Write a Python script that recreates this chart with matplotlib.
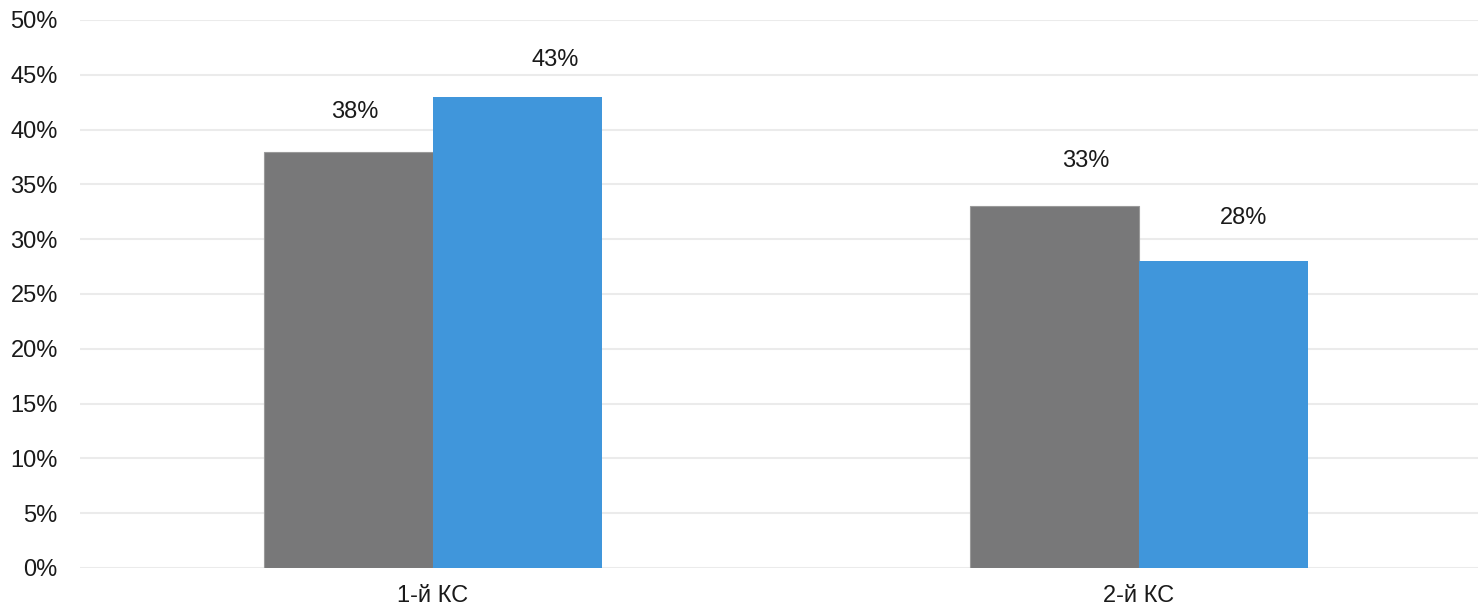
import matplotlib
matplotlib.use("Agg")
import matplotlib.pyplot as plt
import numpy as np

categories = ["1-й КС", "2-й КС"]
series_gray = [38, 33]
series_blue = [43, 28]
y_ticks = [0, 5, 10, 15, 20, 25, 30, 35, 40, 45, 50]

# label placement offsets (pixels), as positioned in the original chart
gray_label_offsets = [(6.5, 40), (31, 45)]
blue_label_offsets = [(38, 37), (20.5, 43)]

plt.rcParams['font.family'] = ['Liberation Sans', 'DejaVu Sans']

W, H = 1478, 607
fig = plt.figure(figsize=(W / 100, H / 100), dpi=100)
ax = fig.add_axes([80 / W, (H - 568) / H, 1412 / W, 548 / H])

x = np.arange(len(categories))
bw = 0.239
b1 = ax.bar(x - bw / 2, series_gray, bw, color="#787879", edgecolor="#9a9a9a", linewidth=0.8, zorder=3)
b2 = ax.bar(x + bw / 2, series_blue, bw, color="#4096DB", zorder=3)

for bars, vals, offs in ((b1, series_gray, gray_label_offsets), (b2, series_blue, blue_label_offsets)):
    for r, v, (dx, dy) in zip(bars, vals, offs):
        ax.annotate(f"{v}%", (r.get_x() + r.get_width() / 2, v), xytext=(dx * 0.72, dy * 0.72),
                    textcoords="offset points", ha="center", va="center",
                    fontsize=17, color="#1a1a1a")

ax.set_xlim(-0.5, 1.5)
ax.set_ylim(0, 50)
ax.set_yticks(y_ticks)
ax.set_yticklabels([f"{t}%" for t in y_ticks])
ax.set_xticks(x)
ax.set_xticklabels(categories)
ax.tick_params(axis="both", length=0, labelsize=17, colors="#1a1a1a")
ax.tick_params(axis="y", pad=16)
ax.tick_params(axis="x", pad=12)
ax.grid(axis="y", color="#ebebeb", linewidth=1.5, zorder=0)
for s in ax.spines.values():
    s.set_visible(False)

fig.savefig("out.png", dpi=100)
